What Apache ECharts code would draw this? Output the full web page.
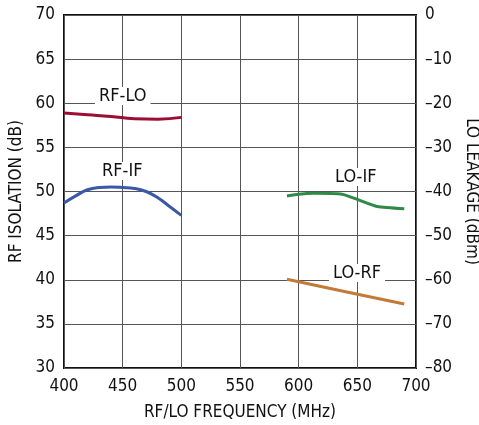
<!DOCTYPE html>
<html>
<head>
<meta charset="utf-8">
<script src="https://cdn.jsdelivr.net/npm/echarts@6/dist/echarts.min.js"></script>
<style>
  html, body { margin: 0; padding: 0; background: #fff; }
  #chart { width: 479px; height: 425px; }
</style>
</head>
<body>
<div id="chart"></div>
<script>
// RF isolation (dB, left axis) and LO leakage (dBm, right axis) vs frequency
const rfLo = [[400, 58.9], [420, 58.7], [440, 58.5], [460, 58.25], [480, 58.2], [500, 58.4]];
const rfIf = [[400, 48.7], [410, 49.5], [420, 50.2], [430, 50.45], [440, 50.5], [450, 50.45],
              [460, 50.35], [470, 50.0], [480, 49.3], [490, 48.3], [500, 47.3]];
const loIf = [[590, -41.0], [600, -40.6], [613, -40.4], [637, -40.6], [650, -41.8], [667, -43.4], [690, -43.9]];
const loRf = [[590, -59.9], [640, -62.7], [690, -65.5]];

const font = "DejaVu Sans Condensed, Liberation Sans Narrow, sans-serif";
const minus = (v) => (v < 0 ? "\u2013" + Math.abs(v) : String(v));

const chart = echarts.init(document.getElementById("chart"));

function tag(text, x, y) {
    return {
        type: "text",
        left: x,
        top: y,
        z: 100,
        style: {
            text: text,
            fontFamily: font,
            fontSize: 18,
            fill: "#111",
            backgroundColor: "#fff",
            padding: [0, 4],
        },
    };
}

const option = {
    animation: false,
    grid: {
        left: 64,
        right: 63,
        top: 15,
        bottom: 57,
        outerBoundsMode: "none",
        show: true,
        borderColor: "#111",
        borderWidth: 2,
    },
    xAxis: {
        type: "value",
        min: 400,
        max: 700,
        interval: 50,
        name: "RF/LO FREQUENCY (MHz)",
        nameLocation: "middle",
        nameGap: 36,
        nameTextStyle: { fontFamily: font, fontSize: 17, color: "#111" },
        axisLine: { show: false },
        axisTick: { show: false },
        axisLabel: { fontFamily: font, fontSize: 17, color: "#111", margin: 10 },
        splitLine: { lineStyle: { color: "#555", width: 1 } },
    },
    yAxis: [
        {
            type: "value",
            min: 30,
            max: 70,
            interval: 5,
            name: "RF ISOLATION (dB)",
            nameLocation: "middle",
            nameGap: 39,
            nameTextStyle: { fontFamily: font, fontSize: 17, color: "#111" },
            axisLine: { show: false },
            axisTick: { show: false },
            axisLabel: { fontFamily: font, fontSize: 17, color: "#111", margin: 9 },
            splitLine: { lineStyle: { color: "#555", width: 1 } },
        },
        {
            type: "value",
            min: -80,
            max: 0,
            interval: 10,
            position: "right",
            name: "LO LEAKAGE (dBm)",
            nameLocation: "middle",
            nameGap: 44,
            nameRotate: -90,
            nameTextStyle: { fontFamily: font, fontSize: 17, color: "#111" },
            axisLine: { show: false },
            axisTick: { show: false },
            axisLabel: {
                fontFamily: font,
                fontSize: 17,
                color: "#111",
                margin: 9,
                formatter: minus,
            },
            splitLine: { show: false },
        },
    ],
    series: [
        {
            name: "RF-LO",
            type: "line",
            data: rfLo,
            smooth: true,
            showSymbol: false,
            lineStyle: { color: "#9b0d32", width: 3 },
        },
        {
            name: "RF-IF",
            type: "line",
            data: rfIf,
            smooth: true,
            showSymbol: false,
            lineStyle: { color: "#3c57a8", width: 3 },
        },
        {
            name: "LO-IF",
            type: "line",
            yAxisIndex: 1,
            data: loIf,
            smooth: 0.2,
            showSymbol: false,
            lineStyle: { color: "#2f8a47", width: 3 },
        },
        {
            name: "LO-RF",
            type: "line",
            yAxisIndex: 1,
            data: loRf,
            showSymbol: false,
            lineStyle: { color: "#c27a36", width: 3 },
        },
    ],
    graphic: [
        tag("RF-LO", 95, 87),
        tag("RF-IF", 98, 162),
        tag("LO-IF", 331, 168),
        tag("LO-RF", 329, 264),
    ],
};

chart.setOption(option);
</script>
</body>
</html>
